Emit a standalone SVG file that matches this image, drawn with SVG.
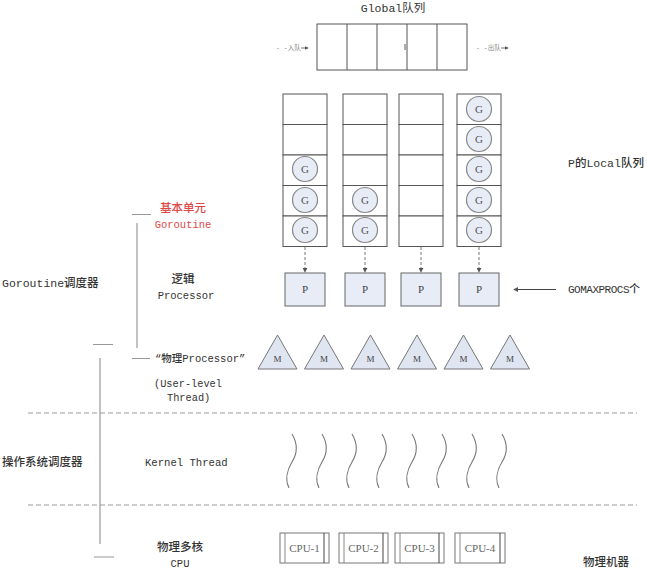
<svg xmlns="http://www.w3.org/2000/svg" width="647" height="576" viewBox="0 0 647 576">
<defs>
<style>
.t{font-family:"Liberation Mono","Noto Sans CJK SC",monospace}
.s{font-family:"Liberation Serif","Noto Sans CJK SC",serif}
.cell{fill:#fff;stroke:#555;stroke-width:1}
.g{fill:#e8ecf7;stroke:#888;stroke-width:1.2}
.p{fill:#e8ecf7;stroke:#666;stroke-width:1}
.m{fill:#e0e5f2;stroke:#777;stroke-width:1}
.br{stroke:#999;stroke-width:1.2;fill:none}
.dash{stroke:#999;stroke-width:1;stroke-dasharray:5 3;fill:none}
.arr{stroke:#777;stroke-width:1;stroke-dasharray:3 2;fill:none}
.wave{stroke:#777;stroke-width:1.1;fill:none}
.cpu{fill:#fff;stroke:#777;stroke-width:1}
</style>
<marker id="ah" viewBox="0 0 6 6" refX="5" refY="3" markerWidth="5" markerHeight="5" orient="auto"><path d="M0,0 L6,3 L0,6 z" fill="#555"/></marker>
</defs>
<rect width="647" height="576" fill="#fff"/>

<g id="global-queue">
<text class="t" x="393" y="12" text-anchor="middle" font-size="11.5" fill="#333">Global队列</text>
<rect class="cell" x="317" y="24" width="150" height="46"/>
<line x1="347" y1="24" x2="347" y2="70" stroke="#555"/>
<line x1="377" y1="24" x2="377" y2="70" stroke="#555"/>
<line x1="407" y1="24" x2="407" y2="70" stroke="#555"/>
<line x1="437" y1="24" x2="437" y2="70" stroke="#555"/>
<line x1="405" y1="44" x2="405" y2="50" stroke="#777" stroke-width="1.2"/>
<text class="t" x="276" y="50" font-size="6.5" fill="#888">- -入队</text>
<line x1="301" y1="48" x2="308" y2="48" stroke="#555" stroke-width="0.8" marker-end="url(#ah)"/>
<text class="t" x="476" y="50" font-size="6.5" fill="#888">- -出队</text>
<line x1="501" y1="48" x2="508" y2="48" stroke="#555" stroke-width="0.8" marker-end="url(#ah)"/>
</g>

<g id="local-queue-1" fill="#555">
<rect class="cell" x="283" y="94" width="44" height="30.5"/>
<rect class="cell" x="283" y="124.5" width="44" height="30.5"/>
<rect class="cell" x="283" y="155" width="44" height="30.5"/>
<rect class="cell" x="283" y="185.5" width="44" height="30.5"/>
<rect class="cell" x="283" y="216" width="44" height="30.5"/>
<circle class="g" cx="305" cy="169" r="12.5"/><text class="s" x="305" y="173" text-anchor="middle" font-size="11">G</text>
<circle class="g" cx="305" cy="200" r="12.5"/><text class="s" x="305" y="204" text-anchor="middle" font-size="11">G</text>
<circle class="g" cx="305" cy="230" r="12.5"/><text class="s" x="305" y="234" text-anchor="middle" font-size="11">G</text>
</g>
<g id="local-queue-2" fill="#555">
<rect class="cell" x="343" y="94" width="44" height="30.5"/>
<rect class="cell" x="343" y="124.5" width="44" height="30.5"/>
<rect class="cell" x="343" y="155" width="44" height="30.5"/>
<rect class="cell" x="343" y="185.5" width="44" height="30.5"/>
<rect class="cell" x="343" y="216" width="44" height="30.5"/>
<circle class="g" cx="365" cy="200" r="12.5"/><text class="s" x="365" y="204" text-anchor="middle" font-size="11">G</text>
<circle class="g" cx="365" cy="230" r="12.5"/><text class="s" x="365" y="234" text-anchor="middle" font-size="11">G</text>
</g>
<g id="local-queue-3">
<rect class="cell" x="399" y="94" width="44" height="30.5"/>
<rect class="cell" x="399" y="124.5" width="44" height="30.5"/>
<rect class="cell" x="399" y="155" width="44" height="30.5"/>
<rect class="cell" x="399" y="185.5" width="44" height="30.5"/>
<rect class="cell" x="399" y="216" width="44" height="30.5"/>
</g>
<g id="local-queue-4" fill="#555">
<rect class="cell" x="457" y="94" width="44" height="30.5"/>
<rect class="cell" x="457" y="124.5" width="44" height="30.5"/>
<rect class="cell" x="457" y="155" width="44" height="30.5"/>
<rect class="cell" x="457" y="185.5" width="44" height="30.5"/>
<rect class="cell" x="457" y="216" width="44" height="30.5"/>
<circle class="g" cx="479" cy="109" r="12.5"/><text class="s" x="479" y="113" text-anchor="middle" font-size="11">G</text>
<circle class="g" cx="479" cy="139" r="12.5"/><text class="s" x="479" y="143" text-anchor="middle" font-size="11">G</text>
<circle class="g" cx="479" cy="169" r="12.5"/><text class="s" x="479" y="173" text-anchor="middle" font-size="11">G</text>
<circle class="g" cx="479" cy="200" r="12.5"/><text class="s" x="479" y="204" text-anchor="middle" font-size="11">G</text>
<circle class="g" cx="479" cy="230" r="12.5"/><text class="s" x="479" y="234" text-anchor="middle" font-size="11">G</text>
</g>

<g id="p1" fill="#444"><rect class="p" x="285" y="273" width="40" height="33"/><text class="s" x="305" y="293" text-anchor="middle" font-size="11">P</text></g>
<g id="p2" fill="#444"><rect class="p" x="345" y="273" width="40" height="33"/><text class="s" x="365" y="293" text-anchor="middle" font-size="11">P</text></g>
<g id="p3" fill="#444"><rect class="p" x="401" y="273" width="40" height="33"/><text class="s" x="421" y="293" text-anchor="middle" font-size="11">P</text></g>
<g id="p4" fill="#444"><rect class="p" x="459" y="273" width="40" height="33"/><text class="s" x="479" y="293" text-anchor="middle" font-size="11">P</text></g>

<g id="m-threads" fill="#444">
<polygon class="m" points="277.5,335 258,369 297,369"/><text class="s" x="277.5" y="362" text-anchor="middle" font-size="9">M</text>
<polygon class="m" points="324,335 304.5,369 343.5,369"/><text class="s" x="324" y="362" text-anchor="middle" font-size="9">M</text>
<polygon class="m" points="370.5,335 351,369 390,369"/><text class="s" x="370.5" y="362" text-anchor="middle" font-size="9">M</text>
<polygon class="m" points="417,335 397.5,369 436.5,369"/><text class="s" x="417" y="362" text-anchor="middle" font-size="9">M</text>
<polygon class="m" points="463.5,335 444,369 483,369"/><text class="s" x="463.5" y="362" text-anchor="middle" font-size="9">M</text>
<polygon class="m" points="510,335 490.5,369 529.5,369"/><text class="s" x="510" y="362" text-anchor="middle" font-size="9">M</text>
</g>

<g id="kernel-threads">
<path class="wave" d="M292,434 C298,444 297,454 292,462 S285,480 289,488"/>
<path class="wave" d="M322,434 C328,444 327,454 322,462 S315,480 319,488"/>
<path class="wave" d="M352,434 C358,444 357,454 352,462 S345,480 349,488"/>
<path class="wave" d="M382,434 C388,444 387,454 382,462 S375,480 379,488"/>
<path class="wave" d="M412,434 C418,444 417,454 412,462 S405,480 409,488"/>
<path class="wave" d="M442,434 C448,444 447,454 442,462 S435,480 439,488"/>
<path class="wave" d="M472,434 C478,444 477,454 472,462 S465,480 469,488"/>
<path class="wave" d="M502,434 C508,444 507,454 502,462 S495,480 499,488"/>
</g>

<g id="cpus" fill="#666">
<g id="cpu1"><rect class="cpu" x="280" y="533" width="49" height="30"/><line x1="285" y1="533" x2="285" y2="563" stroke="#888"/><line x1="324" y1="533" x2="324" y2="563" stroke="#444"/><text class="s" x="304.5" y="552" text-anchor="middle" font-size="11">CPU-1</text></g>
<g id="cpu2"><rect class="cpu" x="339" y="533" width="49" height="30"/><line x1="344" y1="533" x2="344" y2="563" stroke="#888"/><line x1="383" y1="533" x2="383" y2="563" stroke="#444"/><text class="s" x="363.5" y="552" text-anchor="middle" font-size="11">CPU-2</text></g>
<g id="cpu3"><rect class="cpu" x="395" y="533" width="49" height="30"/><line x1="400" y1="533" x2="400" y2="563" stroke="#888"/><line x1="439" y1="533" x2="439" y2="563" stroke="#444"/><text class="s" x="419.5" y="552" text-anchor="middle" font-size="11">CPU-3</text></g>
<g id="cpu4"><rect class="cpu" x="455" y="533" width="50" height="30"/><line x1="460" y1="533" x2="460" y2="563" stroke="#888"/><line x1="500" y1="533" x2="500" y2="563" stroke="#444"/><text class="s" x="480" y="552" text-anchor="middle" font-size="11">CPU-4</text></g>
</g>

<g id="connectors">
<line class="arr" x1="305" y1="247" x2="305" y2="272" marker-end="url(#ah)"/>
<line class="arr" x1="365" y1="247" x2="365" y2="272" marker-end="url(#ah)"/>
<line class="arr" x1="421" y1="247" x2="421" y2="272" marker-end="url(#ah)"/>
<line class="arr" x1="479" y1="247" x2="479" y2="272" marker-end="url(#ah)"/>
<line x1="556" y1="289.5" x2="514" y2="289.5" stroke="#444" stroke-width="1" marker-end="url(#ah)"/>
<path class="br" d="M132,214.5 H151 M137,223 V348 M132,358.5 H150"/>
<path class="br" d="M93,344.5 H113 M100,358 V544 M94,557 H114"/>
<line class="dash" x1="28" y1="413" x2="637" y2="413"/>
<line class="dash" x1="28" y1="505" x2="637" y2="505"/>
</g>

<g id="labels" fill="#333" font-weight="500">
<text class="t" x="568" y="167" font-size="11.5">P的Local队列</text>
<text class="t" x="568" y="293" font-size="11" letter-spacing="-0.5">GOMAXPROCS个</text>
<text class="t" x="183" y="212" text-anchor="middle" fill="#e04848" font-size="11.5">基本单元</text>
<text class="t" x="183" y="228" text-anchor="middle" fill="#e04848" font-size="10.5">Goroutine</text>
<text class="t" x="183" y="283" text-anchor="middle" font-size="11.5">逻辑</text>
<text class="t" x="186" y="299" text-anchor="middle" font-size="10.5">Processor</text>
<text class="t" x="2" y="287" font-size="11.5">Goroutine调度器</text>
<text class="t" x="155" y="362" font-size="10.5">“物理Processor”</text>
<text class="t" x="154" y="387" font-size="10.3">(User-level</text>
<text class="t" x="167" y="401" font-size="10.3">Thread)</text>
<text class="t" x="2" y="466" font-size="11.5">操作系统调度器</text>
<text class="t" x="145" y="466" font-size="10.6">Kernel Thread</text>
<text class="t" x="180" y="551" text-anchor="middle" font-size="11.5">物理多核</text>
<text class="t" x="180" y="567" text-anchor="middle" font-size="10.5">CPU</text>
<text class="t" x="583" y="566" font-size="11.5">物理机器</text>
</g>
</svg>
